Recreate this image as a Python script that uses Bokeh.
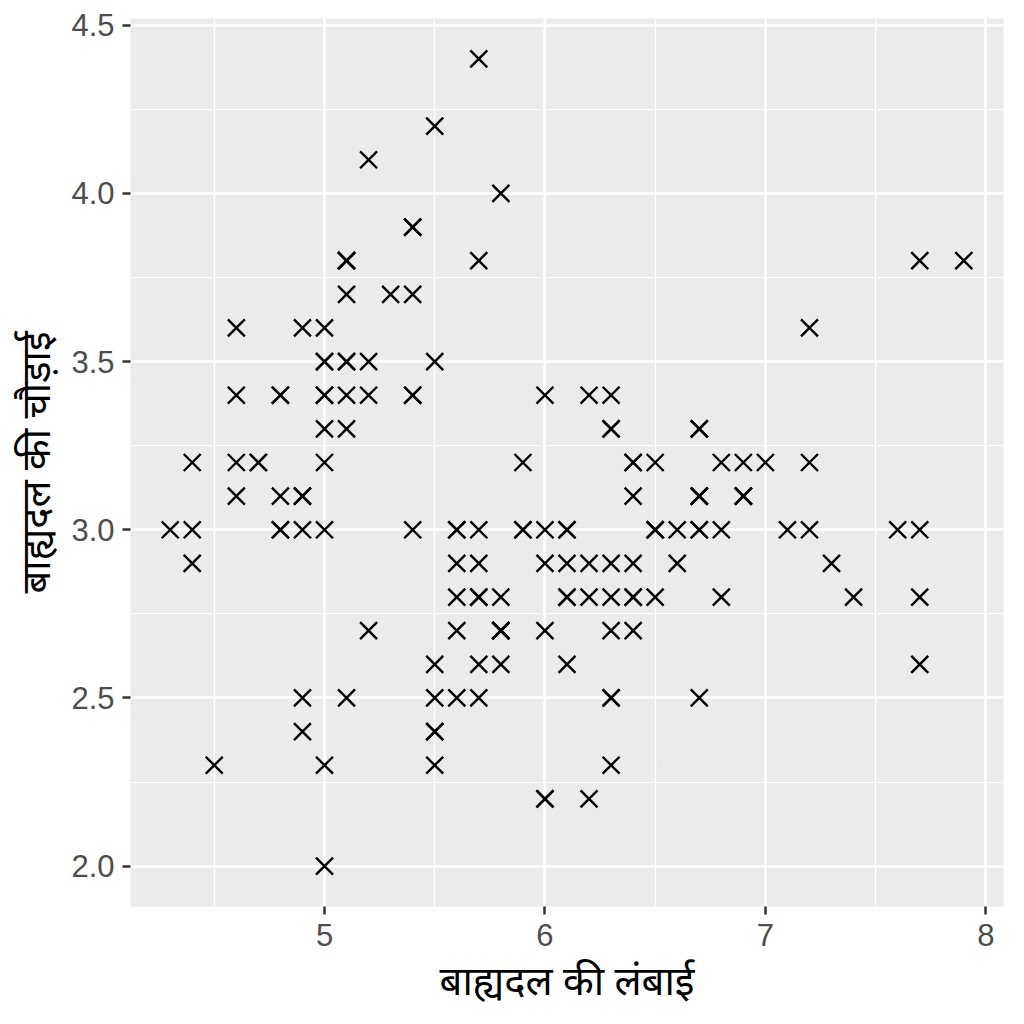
import numpy as np

from bokeh.plotting import figure
from bokeh.embed import file_html
from bokeh.resources import INLINE
from bokeh.models import FixedTicker, PrintfTickFormatter

# iris: sepal length / sepal width
sepal_length = [5.1, 4.9, 4.7, 4.6, 5.0, 5.4, 4.6, 5.0, 4.4, 4.9,
                5.4, 4.8, 4.8, 4.3, 5.8, 5.7, 5.4, 5.1, 5.7, 5.1,
                5.4, 5.1, 4.6, 5.1, 4.8, 5.0, 5.0, 5.2, 5.2, 4.7,
                4.8, 5.4, 5.2, 5.5, 4.9, 5.0, 5.5, 4.9, 4.4, 5.1,
                5.0, 4.5, 4.4, 5.0, 5.1, 4.8, 5.1, 4.6, 5.3, 5.0,
                7.0, 6.4, 6.9, 5.5, 6.5, 5.7, 6.3, 4.9, 6.6, 5.2,
                5.0, 5.9, 6.0, 6.1, 5.6, 6.7, 5.6, 5.8, 6.2, 5.6,
                5.9, 6.1, 6.3, 6.1, 6.4, 6.6, 6.8, 6.7, 6.0, 5.7,
                5.5, 5.5, 5.8, 6.0, 5.4, 6.0, 6.7, 6.3, 5.6, 5.5,
                5.5, 6.1, 5.8, 5.0, 5.6, 5.7, 5.7, 6.2, 5.1, 5.7,
                6.3, 5.8, 7.1, 6.3, 6.5, 7.6, 4.9, 7.3, 6.7, 7.2,
                6.5, 6.4, 6.8, 5.7, 5.8, 6.4, 6.5, 7.7, 7.7, 6.0,
                6.9, 5.6, 7.7, 6.3, 6.7, 7.2, 6.2, 6.1, 6.4, 7.2,
                7.4, 7.9, 6.4, 6.3, 6.1, 7.7, 6.3, 6.4, 6.0, 6.9,
                6.7, 6.9, 5.8, 6.8, 6.7, 6.7, 6.3, 6.5, 6.2, 5.9]
sepal_width = [3.5, 3.0, 3.2, 3.1, 3.6, 3.9, 3.4, 3.4, 2.9, 3.1,
               3.7, 3.4, 3.0, 3.0, 4.0, 4.4, 3.9, 3.5, 3.8, 3.8,
               3.4, 3.7, 3.6, 3.3, 3.4, 3.0, 3.4, 3.5, 3.4, 3.2,
               3.1, 3.4, 4.1, 4.2, 3.1, 3.2, 3.5, 3.6, 3.0, 3.4,
               3.5, 2.3, 3.2, 3.5, 3.8, 3.0, 3.8, 3.2, 3.7, 3.3,
               3.2, 3.2, 3.1, 2.3, 2.8, 2.8, 3.3, 2.4, 2.9, 2.7,
               2.0, 3.0, 2.2, 2.9, 2.9, 3.1, 3.0, 2.7, 2.2, 2.5,
               3.2, 2.8, 2.5, 2.8, 2.9, 3.0, 2.8, 3.0, 2.9, 2.6,
               2.4, 2.4, 2.7, 2.7, 3.0, 3.4, 3.1, 2.3, 3.0, 2.5,
               2.6, 3.0, 2.6, 2.3, 2.7, 3.0, 2.9, 2.9, 2.5, 2.8,
               3.3, 2.7, 3.0, 2.9, 3.0, 3.0, 2.5, 2.9, 2.5, 3.6,
               3.2, 2.7, 3.0, 2.5, 2.8, 3.2, 3.0, 3.8, 2.6, 2.2,
               3.2, 2.8, 2.8, 2.7, 3.3, 3.2, 2.8, 3.0, 2.8, 3.0,
               2.8, 3.8, 2.8, 2.8, 2.6, 3.0, 3.4, 3.1, 3.0, 3.1,
               3.1, 3.1, 2.7, 3.2, 3.3, 3.0, 2.5, 3.0, 3.4, 3.0]

x_ticks = [5, 6, 7, 8]
y_ticks = [2.0, 2.5, 3.0, 3.5, 4.0, 4.5]
x_title = "बाह्यदल की लंबाई"
y_title = "बाह्यदल की चौड़ाई"

# ggplot style range: data range plus 5% on each side
xmin, xmax = min(sepal_length), max(sepal_length)
ymin, ymax = min(sepal_width), max(sepal_width)
xpad = 0.05 * (xmax - xmin)
ypad = 0.05 * (ymax - ymin)

p = figure(width=1016, height=1016,
           x_range=(xmin - xpad, xmax + xpad), y_range=(ymin - ypad, ymax + ypad),
           output_backend="svg", toolbar_location=None,
           min_border_left=130, min_border_right=13,
           min_border_top=18, min_border_bottom=110)

p.background_fill_color = "#EBEBEB"
p.border_fill_color = "white"
p.outline_line_color = None

p.xaxis.ticker = FixedTicker(ticks=x_ticks, minor_ticks=[4.5, 5.5, 6.5, 7.5])
p.yaxis.ticker = FixedTicker(ticks=y_ticks, minor_ticks=[2.25, 2.75, 3.25, 3.75, 4.25])
p.yaxis.formatter = PrintfTickFormatter(format="%.1f")

for ax in [p.xaxis, p.yaxis]:
    ax.axis_line_color = None
    ax.major_tick_line_color = "#333333"
    ax.major_tick_line_width = 2.5
    ax.major_tick_out = 8
    ax.major_tick_in = 0
    ax.minor_tick_line_color = None
    ax.major_label_text_color = "#4D4D4D"
    ax.major_label_text_font = "Liberation Sans"
    ax.major_label_text_font_size = "31px"
    ax.axis_label_text_font = "Noto Sans"
    ax.axis_label_text_font_size = "40px"
    ax.axis_label_text_font_style = "normal"
    ax.axis_label_text_color = "black"

p.xaxis.major_label_standoff = 9
p.yaxis.major_label_standoff = 8
p.xaxis.axis_label = x_title
p.yaxis.axis_label = y_title
p.xaxis.axis_label_standoff = 3
p.yaxis.axis_label_standoff = 6

p.grid.grid_line_color = "white"
p.grid.grid_line_width = 2.5
p.grid.minor_grid_line_color = "white"
p.grid.minor_grid_line_width = 1.2

p.scatter(sepal_length, sepal_width, marker="x", size=24,
          line_color="black", line_width=2.4)

open("out.html", "w").write(file_html(p, INLINE))
